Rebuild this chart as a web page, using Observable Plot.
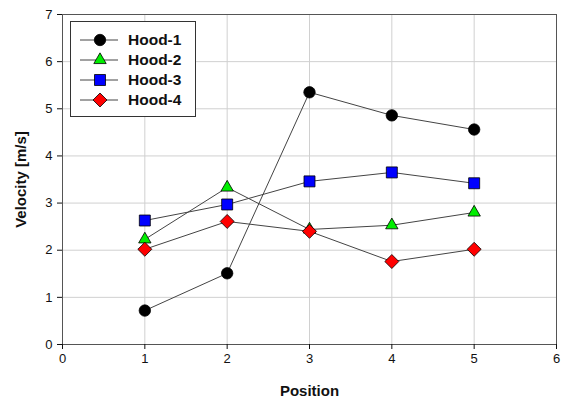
<!DOCTYPE html>
<html>
<head>
<meta charset="utf-8">
<script src="https://cdn.jsdelivr.net/npm/d3@7"></script>
<script src="https://cdn.jsdelivr.net/npm/@observablehq/plot@0.6"></script>
<style>
  body { margin: 0; background: #fff; }
  #wrap { position: relative; width: 566px; height: 399px; font-family: "Liberation Sans", Arial, sans-serif; }
  #legend { position: absolute; left: 70px; top: 21px; width: 126px; height: 96px; border: 1px solid #333; background: #fff; box-sizing: border-box; }
  .row { position: absolute; left: 0; height: 20px; display: flex; align-items: center; }
  .row span { font-weight: bold; font-size: 15.5px; color: #111; margin-left: 9px; }
</style>
</head>
<body>
<div id="wrap"><div id="legend"></div></div>
<script>
const positions = [1, 2, 3, 4, 5];
const seriesNames = ["Hood-1", "Hood-2", "Hood-3", "Hood-4"];
const hood1 = [0.72, 1.51, 5.35, 4.86, 4.56];
const hood2 = [2.23, 3.33, 2.44, 2.53, 2.80];
const hood3 = [2.63, 2.97, 3.46, 3.65, 3.42];
const hood4 = [2.02, 2.61, 2.40, 1.76, 2.02];
const seriesValues = [hood1, hood2, hood3, hood4];
const fills = ["#000000", "#00ee00", "#0000ff", "#ff0000"];
const symbols = ["circle", "triangle", "square", "diamond2"];
const radii = [5.7, 4.6, 6.2, 6.3];
const xTicks = [0, 1, 2, 3, 4, 5, 6];
const yTicks = [0, 1, 2, 3, 4, 5, 6, 7];

const data = seriesNames.flatMap((name, i) =>
  positions.map((p, j) => ({series: name, x: p, y: seriesValues[i][j]})));

const marks = [
  Plot.gridX([1, 2, 3, 4, 5], {stroke: "#d0d0d0", strokeOpacity: 1}),
  Plot.gridY([1, 2, 3, 4, 5, 6], {stroke: "#d0d0d0", strokeOpacity: 1}),
  Plot.frame({stroke: "#555"}),
  Plot.axisX({ticks: xTicks, tickFormat: "d", tickSize: 5, tickPadding: 4, fontSize: 13, label: "Position", labelAnchor: "center", labelArrow: "none", labelOffset: 51}),
  Plot.axisY({ticks: yTicks, tickFormat: "d", tickSize: 5, tickPadding: 5, fontSize: 13, label: "Velocity [m/s]", labelAnchor: "center", labelArrow: "none", labelOffset: 47}),
  Plot.line(data, {x: "x", y: "y", z: "series", stroke: "#444", strokeWidth: 1})
];
seriesNames.forEach((name, i) => {
  marks.push(Plot.dot(data.filter(d => d.series === name), {
    x: "x", y: "y", symbol: () => symbols[i], r: radii[i], fill: fills[i], stroke: "#000", strokeWidth: 0.8
  }));
});

const chart = Plot.plot({
  width: 566,
  height: 399,
  marginLeft: 62,
  marginRight: 10,
  marginTop: 14,
  marginBottom: 55,
  style: {fontFamily: "'Liberation Sans', Arial, sans-serif", color: "#111", background: "#fff"},
  x: {domain: [0, 6]},
  y: {domain: [0, 7]},
  symbol: {type: "identity"},
  marks
});
chart.querySelectorAll('[aria-label="x-axis label"] text, [aria-label="y-axis label"] text').forEach(t => {
  t.style.fontWeight = "bold";
  t.style.fontSize = "15px";
});
document.getElementById("wrap").prepend(chart);

// legend
const leg = document.getElementById("legend");
const rowTops = [8, 28, 48, 68];
seriesNames.forEach((name, i) => {
  const row = document.createElement("div");
  row.className = "row";
  row.style.top = rowTops[i] + "px";
  const svg = d3.create("svg").attr("width", 48).attr("height", 20);
  svg.append("line").attr("x1", 9).attr("x2", 47).attr("y1", 10).attr("y2", 10).attr("stroke", "#444");
  const symType = {circle: d3.symbolCircle, triangle: d3.symbolTriangle, square: d3.symbolSquare, diamond2: d3.symbolDiamond2}[symbols[i]];
  svg.append("path")
    .attr("d", d3.symbol(symType, radii[i] * radii[i] * Math.PI)())
    .attr("transform", "translate(29,10)")
    .attr("fill", fills[i]).attr("stroke", "#000").attr("stroke-width", 0.8);
  row.appendChild(svg.node());
  const label = document.createElement("span");
  label.textContent = name;
  row.appendChild(label);
  leg.appendChild(row);
});
</script>
</body>
</html>
